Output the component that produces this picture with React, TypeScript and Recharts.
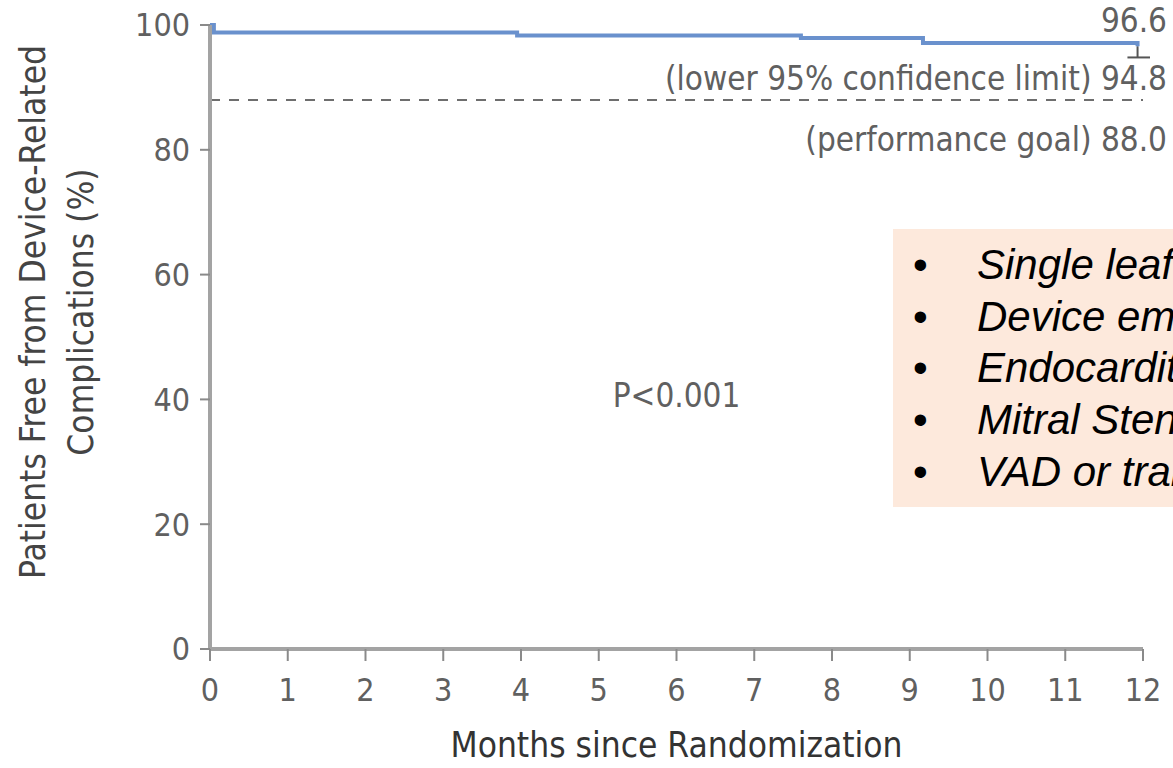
import { Label, Line, LineChart, ReferenceDot, ReferenceLine, XAxis, YAxis } from 'recharts';

const months = [0, 0.05, 3.95, 7.6, 9.17, 11.93];
const freePct = [100, 98.8, 98.3, 97.9, 97.1, 96.6];
const xTicks = [0, 1, 2, 3, 4, 5, 6, 7, 8, 9, 10, 11, 12];
const yTicks = [0, 20, 40, 60, 80, 100];
const finalEstimate = 96.6;
const lowerConfidence = 94.8;
const performanceGoal = 88.0;
const pValueText = 'P<0.001';
const pValueAt = { month: 6, pct: 40.7 };
const complicationItems = [
  'Single leaflet device attachment',
  'Device embolization',
  'Endocarditis',
  'Mitral Stenosis',
  'VAD or transplant',
];

const data = months.map((m, i) => ({ month: m, pct: freePct[i] }));

const FONT = "'DejaVu Sans Condensed', 'DejaVu Sans', sans-serif";
const TEXT_GRAY = '#606060';

function rightNote(text: string, dy: number) {
  return (props: any) => {
    const vb = props.viewBox;
    return (
      <text
        x={vb.x + vb.width + 24}
        y={vb.y + dy}
        textAnchor="end"
        dominantBaseline="central"
        fontFamily={FONT}
        fontStretch="condensed"
        fontSize={33}
        fill={TEXT_GRAY}
      >
        {text}
      </text>
    );
  };
}

function YTitle() {
  const cx = 57;
  const cy = 312;
  return (
    <text
      x={cx}
      y={cy}
      transform={`rotate(-90, ${cx}, ${cy})`}
      textAnchor="middle"
      fontFamily={FONT}
      fontStretch="condensed"
      fontSize={35}
      fill="#444"
    >
      <tspan x={cx} dy="-0.35em">Patients Free from Device-Related</tspan>
      <tspan x={cx} dy="1.38em">Complications (%)</tspan>
    </text>
  );
}

function XTitle(props: any) {
  const vb = props.viewBox;
  return (
    <text
      x={vb.x + vb.width / 2}
      y={745}
      textAnchor="middle"
      dominantBaseline="central"
      fontFamily={FONT}
      fontStretch="condensed"
      fontSize={35}
      fill="#333"
    >
      Months since Randomization
    </text>
  );
}

export default function App() {
  return (
    <div style={{ position: 'absolute', left: 0, top: 0, width: 1173, height: 768, background: '#fff' }}>
      <LineChart width={1173} height={768} data={data} margin={{ top: 25, right: 30, bottom: 0, left: 0 }}>
        <XAxis
          dataKey="month"
          type="number"
          domain={[0, 12]}
          ticks={xTicks}
          height={119}
          tickSize={12}
          tickMargin={17}
          axisLine={{ stroke: '#a3a3a3', strokeWidth: 4 }}
          tickLine={{ stroke: '#8a8a8a', strokeWidth: 2 }}
          tick={{ fill: TEXT_GRAY, fontSize: 32, fontFamily: FONT }}
        >
          <Label content={XTitle} />
        </XAxis>
        <YAxis
          type="number"
          domain={[0, 100]}
          ticks={yTicks}
          width={210}
          tickSize={10}
          tickMargin={10}
          axisLine={{ stroke: '#a3a3a3', strokeWidth: 4 }}
          tickLine={{ stroke: '#8a8a8a', strokeWidth: 2 }}
          tick={{ fill: TEXT_GRAY, fontSize: 32, fontFamily: FONT }}
        >
          <Label content={YTitle} />
        </YAxis>
        <ReferenceLine
          y={performanceGoal}
          stroke="#6e6e6e"
          strokeWidth={2}
          strokeDasharray="10 9"
          label={rightNote(`(performance goal)  ${performanceGoal.toFixed(1)}`, 40)}
        />
        <ReferenceLine
          y={lowerConfidence}
          stroke="none"
          label={rightNote(`(lower 95% confidence limit)  ${lowerConfidence.toFixed(1)}`, 21)}
        />
        <ReferenceLine y={finalEstimate} stroke="none" label={rightNote(finalEstimate.toFixed(1), -26)} />
        <ReferenceLine
          segment={[
            { x: months[months.length - 1], y: finalEstimate },
            { x: months[months.length - 1], y: lowerConfidence },
          ]}
          stroke="#555"
          strokeWidth={2}
          ifOverflow="visible"
        />
        <ReferenceLine
          segment={[
            { x: 11.8, y: lowerConfidence },
            { x: 12.09, y: lowerConfidence },
          ]}
          stroke="#555"
          strokeWidth={2}
          ifOverflow="visible"
        />
        <ReferenceDot
          x={pValueAt.month}
          y={pValueAt.pct}
          r={1}
          fill="none"
          stroke="none"
          label={{ value: pValueText, position: 'center', fill: TEXT_GRAY, fontSize: 33, fontFamily: FONT }}
        />
        <Line
          type="stepAfter"
          dataKey="pct"
          stroke="#6a91cd"
          strokeWidth={4}
          dot={false}
          isAnimationActive={false}
        />
      </LineChart>
      <div
        style={{
          position: 'absolute',
          left: 893,
          top: 229,
          width: 280,
          height: 278,
          background: '#fde9dc',
          overflow: 'hidden',
          fontFamily: "'Liberation Sans', Arial, sans-serif",
          fontSize: 42,
          lineHeight: '51.7px',
          color: '#000',
          whiteSpace: 'nowrap',
          paddingTop: 10,
          boxSizing: 'border-box',
        }}
      >
        {complicationItems.map((item) => (
          <div key={item} style={{ position: 'relative', height: 51.7 }}>
            <span style={{ position: 'absolute', left: 20 }}>•</span>
            <span style={{ position: 'absolute', left: 84, fontStyle: 'italic' }}>{item}</span>
          </div>
        ))}
      </div>
    </div>
  );
}
